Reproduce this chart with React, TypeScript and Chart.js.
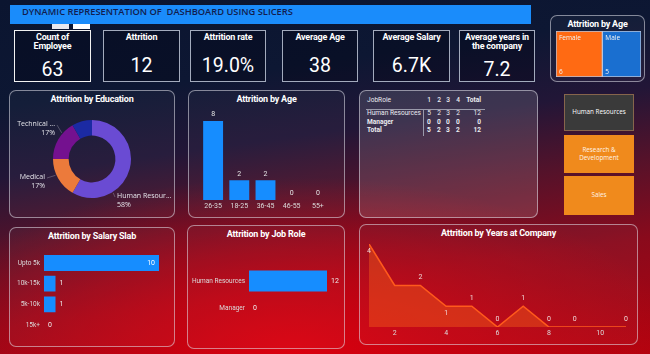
import React, { useEffect, useRef } from 'react';
import { Chart, registerables } from 'chart.js';

Chart.register(...registerables);
Chart.defaults.font.family = 'Roboto';

// ---------- data ----------
const kpiTitles = ['Count of\nEmployee', 'Attrition', 'Attrition rate', 'Average Age', 'Average Salary', 'Average years in\nthe company'];
const kpiValues = ['63', '12', '19.0%', '38', '6.7K', '7.2'];

const educationLabels = ['Human Resources', 'Medical', 'Technical Degree', 'Life Sciences'];
const educationShown = ['Human Resour...', 'Medical', 'Technical ...', ''];
const educationValues = [7, 2, 2, 1];

const ageGroups = ['26-35', '18-25', '36-45', '46-55', '55+'];
const ageValues = [8, 2, 2, 0, 0];

const salarySlabs = ['Upto 5k', '10k-15k', '5k-10k', '15k+'];
const salaryValues = [10, 1, 1, 0];

const jobRoles = ['Human Resources', 'Manager'];
const jobRoleValues = [12, 0];

const years = [1, 2, 3, 4, 5, 6, 7, 8, 9, 10, 11];
const yearsValues = [4, 2, 2, 1, 1, 0, 1, 0, 0, 0, 0];
const yearsLabelPlacement = ['below', 'hide', 'above', 'below', 'above', 'above', 'above', 'above', 'above', 'hide', 'above'];

const genders = ['Female', 'Male'];
const genderValues = [6, 5];

const matrixColumns = ['1', '2', '3', '4'];
const matrixRowNames = ['Human Resources', 'Manager'];
const matrixHR = [5, 2, 3, 2];
const matrixManager = [0, 0, 0, 0];

const slicerItems = ['Human Resources', 'Research &\nDevelopment', 'Sales'];

// ---------- styles ----------
const BLUE = '#168dff';
const eduColors = ['#6a4bd3', '#ec7a3b', '#74118f', '#1b2aa3'];
const genderColors = ['#ff6a13', '#1a6fd0'];
const TICK = '#dcdcdc';

function useChart(ref: any, make: () => any) {
  useEffect(() => {
    const chart = new Chart(ref.current, make());
    return () => chart.destroy();
  }, []);
}

const donutLabelPos = [
  { dx: 25, dy: 37, align: 'left' },
  { dx: -47, dy: 18, align: 'right' },
  { dx: -37, dy: -35, align: 'right' },
  null,
];

function DonutChart() {
  const ref = useRef<HTMLCanvasElement>(null);
  useChart(ref, () => ({
    type: 'doughnut',
    data: { labels: educationLabels, datasets: [{ data: educationValues, backgroundColor: eduColors, borderWidth: 0 }] },
    options: {
      responsive: false, animation: false, cutout: '60%',
      layout: { padding: { top: 16, bottom: 18, left: 44, right: 44 } },
      plugins: { legend: { display: false }, tooltip: { enabled: false } },
    },
    plugins: [{
      id: 'donutLabels',
      afterDraw(chart: any) {
        const ctx = chart.ctx;
        const arc = chart.getDatasetMeta(0).data[0];
        const cx = arc.x, cy = arc.y, r = arc.outerRadius;
        const total = educationValues.reduce((a, b) => a + b, 0);
        ctx.save();
        ctx.font = '7px "Open Sans"';
        ctx.textBaseline = 'middle';
        educationValues.forEach((v, i) => {
          const p = donutLabelPos[i];
          if (!p) return;
          const ax = cx + p.dx, ay = cy + p.dy;
          const ang = Math.atan2(p.dy + 3, p.dx);
          ctx.strokeStyle = 'rgba(200,200,210,0.4)';
          ctx.lineWidth = 0.8;
          ctx.beginPath();
          ctx.moveTo(cx + Math.cos(ang) * (r + 1), cy + Math.sin(ang) * (r + 1));
          ctx.lineTo(ax + (p.align === 'left' ? -2 : 2), ay + 1);
          ctx.stroke();
          ctx.fillStyle = '#e4e4ea';
          ctx.textAlign = p.align;
          ctx.fillText(educationShown[i], ax, ay);
          ctx.fillText(Math.round((v / total) * 100) + '%', ax, ay + 9);
        });
        ctx.restore();
      },
    }],
  }));
  return <canvas ref={ref} width={166} height={112} style={{ position: 'absolute', left: 9, top: 104 }} />;
}

function AgeChart() {
  const ref = useRef<HTMLCanvasElement>(null);
  useChart(ref, () => ({
    type: 'bar',
    data: { labels: ageGroups, datasets: [{ data: ageValues, backgroundColor: BLUE, categoryPercentage: 1, barPercentage: 0.76 }] },
    options: {
      responsive: false, animation: false,
      layout: { padding: { left: 12, right: 13, top: 17, bottom: 4 } },
      scales: {
        x: { grid: { display: false, drawTicks: false }, border: { display: false }, ticks: { font: { size: 7 }, color: TICK, padding: 2 }, afterFit: (s: any) => { s.height = 12; } },
        y: { display: false, min: 0, max: 8 },
      },
      plugins: { legend: { display: false }, tooltip: { enabled: false } },
    },
    plugins: [{
      id: 'ageLabels',
      afterDatasetsDraw(chart: any) {
        const ctx = chart.ctx;
        ctx.save();
        ctx.font = '7px Roboto'; ctx.fillStyle = '#e6e6e6'; ctx.textAlign = 'center'; ctx.textBaseline = 'bottom';
        chart.getDatasetMeta(0).data.forEach((b: any, i: number) => ctx.fillText(String(ageValues[i]), b.x, b.y - 3));
        ctx.restore();
      },
    }],
  }));
  return <canvas ref={ref} width={156} height={112} style={{ position: 'absolute', left: 188, top: 104 }} />;
}

function hbarLabels(values: number[]) {
  return {
    id: 'hbarLabels',
    afterDatasetsDraw(chart: any) {
      const ctx = chart.ctx;
      const max = Math.max(...values);
      ctx.save();
      ctx.font = '7px Roboto'; ctx.textBaseline = 'middle';
      chart.getDatasetMeta(0).data.forEach((b: any, i: number) => {
        const v = values[i];
        if (v === max && b.x - b.base > 40) {
          ctx.textAlign = 'right'; ctx.fillStyle = '#ffffff'; ctx.fillText(String(v), b.x - 4, b.y);
        } else {
          ctx.textAlign = 'left'; ctx.fillStyle = '#eeeeee'; ctx.fillText(String(v), b.x + 4, b.y);
        }
      });
      ctx.restore();
    },
  };
}

function SalaryChart() {
  const ref = useRef<HTMLCanvasElement>(null);
  useChart(ref, () => ({
    type: 'bar',
    data: { labels: salarySlabs, datasets: [{ data: salaryValues, backgroundColor: BLUE, categoryPercentage: 1, barPercentage: 0.77 }] },
    options: {
      indexAxis: 'y', responsive: false, animation: false,
      layout: { padding: { left: 0, right: 16, top: 12.6, bottom: 8.6 } },
      scales: {
        y: { grid: { display: false, drawTicks: false }, border: { display: false }, ticks: { font: { size: 6.5 }, color: TICK, padding: 4 }, afterFit: (s: any) => { s.width = 35; } },
        x: { display: false, min: 0, max: 10 },
      },
      plugins: { legend: { display: false }, tooltip: { enabled: false } },
    },
    plugins: [hbarLabels(salaryValues)],
  }));
  return <canvas ref={ref} width={166} height={104} style={{ position: 'absolute', left: 9, top: 240 }} />;
}

function JobRoleChart() {
  const ref = useRef<HTMLCanvasElement>(null);
  useChart(ref, () => ({
    type: 'bar',
    data: { labels: jobRoles, datasets: [{ data: jobRoleValues, backgroundColor: BLUE, categoryPercentage: 1, barPercentage: 0.78 }] },
    options: {
      indexAxis: 'y', responsive: false, animation: false,
      layout: { padding: { left: 0, right: 17, top: 29.5, bottom: 24.5 } },
      scales: {
        y: { grid: { display: false, drawTicks: false }, border: { display: false }, ticks: { font: { size: 6.5 }, color: TICK, padding: 4 }, afterFit: (s: any) => { s.width = 62; } },
        x: { display: false, min: 0, max: 12 },
      },
      plugins: { legend: { display: false }, tooltip: { enabled: false } },
    },
    plugins: [{
      id: 'jobLabels',
      afterDatasetsDraw(chart: any) {
        const ctx = chart.ctx;
        ctx.save();
        ctx.font = '7px Roboto'; ctx.textBaseline = 'middle'; ctx.textAlign = 'left'; ctx.fillStyle = '#eeeeee';
        chart.getDatasetMeta(0).data.forEach((b: any, i: number) => ctx.fillText(String(jobRoleValues[i]), b.x + 4, b.y));
        ctx.restore();
      },
    }],
  }));
  return <canvas ref={ref} width={157} height={108} style={{ position: 'absolute', left: 187, top: 238 }} />;
}

function YearsChart() {
  const ref = useRef<HTMLCanvasElement>(null);
  useChart(ref, () => ({
    type: 'line',
    data: {
      datasets: [{
        data: years.map((x, i) => ({ x, y: yearsValues[i] })),
        borderColor: '#ff5a1c', borderWidth: 1.6, pointRadius: 0, tension: 0,
        fill: 'origin', backgroundColor: 'rgba(238,88,25,0.48)',
      }],
    },
    options: {
      responsive: false, animation: false,
      layout: { padding: { left: 10, right: 11, top: 6, bottom: 5 } },
      scales: {
        x: {
          type: 'linear', min: 1, max: 11,
          grid: { display: false, drawTicks: false }, border: { display: false },
          ticks: { stepSize: 1, font: { size: 7 }, color: TICK, padding: 2, autoSkip: false, maxRotation: 0, callback: (v: number) => (v % 2 === 0 ? String(v) : '') },
          afterFit: (s: any) => { s.height = 11; },
        },
        y: { display: false, min: 0, max: 4 },
      },
      plugins: { legend: { display: false }, tooltip: { enabled: false } },
    },
    plugins: [{
      id: 'lineLabels',
      afterDatasetsDraw(chart: any) {
        const ctx = chart.ctx;
        ctx.save();
        ctx.font = '7px Roboto'; ctx.fillStyle = '#f0dada'; ctx.textAlign = 'center'; ctx.textBaseline = 'middle';
        chart.getDatasetMeta(0).data.forEach((p: any, i: number) => {
          const pl = yearsLabelPlacement[i];
          if (pl === 'hide') return;
          ctx.fillText(String(yearsValues[i]), p.x, pl === 'below' ? p.y + 7 : p.y - 8);
        });
        ctx.restore();
      },
    }],
  }));
  return <canvas ref={ref} width={278} height={105} style={{ position: 'absolute', left: 359, top: 238 }} />;
}

function GenderChart() {
  const ref = useRef<HTMLCanvasElement>(null);
  const total = genderValues.reduce((a, b) => a + b, 0);
  useChart(ref, () => ({
    type: 'bar',
    data: {
      labels: ['Attrition'],
      datasets: genders.map((g, i) => ({
        label: g, data: [genderValues[i]], backgroundColor: genderColors[i],
        borderColor: 'rgba(200,212,235,0.9)', borderWidth: 1, borderSkipped: false,
        categoryPercentage: 1, barPercentage: 1,
      })),
    },
    options: {
      indexAxis: 'y', responsive: false, animation: false,
      layout: { padding: 0 },
      scales: { x: { display: false, stacked: true, min: 0, max: total }, y: { display: false, stacked: true } },
      plugins: { legend: { display: false }, tooltip: { enabled: false } },
    },
    plugins: [{
      id: 'tileLabels',
      afterDatasetsDraw(chart: any) {
        const ctx = chart.ctx;
        ctx.save();
        ctx.font = '6.5px "Open Sans"'; ctx.fillStyle = '#f4f4f4'; ctx.textAlign = 'left';
        genders.forEach((g, i) => {
          const b = chart.getDatasetMeta(i).data[0];
          const left = Math.min(b.base, b.x);
          const top = b.y - b.height / 2, bottom = b.y + b.height / 2;
          ctx.textBaseline = 'top'; ctx.fillText(g, left + 3, top + 4);
          ctx.textBaseline = 'bottom'; ctx.fillText(String(genderValues[i]), left + 3, bottom - 2);
        });
        ctx.restore();
      },
    }],
  }));
  return <canvas ref={ref} width={85} height={46} style={{ position: 'absolute', left: 556, top: 31 }} />;
}

// ---------- layout pieces ----------
const abs = (x: number, y: number, w: number, h: number): React.CSSProperties => ({ position: 'absolute', left: x, top: y, width: w, height: h, boxSizing: 'border-box' });

function Panel({ x, y, w, h, title, light }: any) {
  return (
    <div style={{ ...abs(x, y, w, h), border: '1px solid rgba(225,225,235,0.55)', borderRadius: 7, background: light ? 'rgba(255,255,255,0.13)' : 'rgba(255,255,255,0.03)' }}>
      {title && (
        <div style={{ position: 'absolute', left: 0, right: 0, top: 3, height: 12, lineHeight: '12px', textAlign: 'center', color: '#fff', font: 'bold 9px Roboto', letterSpacing: -0.2, whiteSpace: 'nowrap' }}>{title}</div>
      )}
    </div>
  );
}

const kpiBoxes = [[14, 91], [103, 180], [190, 266], [282, 358], [373, 450], [459, 535]];

function Kpis() {
  return (
    <>
      {kpiTitles.map((t, i) => {
        const [x0, x1] = kpiBoxes[i];
        const twoLine = t.includes('\n');
        const sel = i === 0;
        return (
          <div key={i} style={{ ...abs(x0, 30, x1 - x0, 52), border: sel ? '1.5px solid #f2f2f2' : '1px solid #a3abbd', background: 'rgba(0,0,10,0.28)' }}>
            <div style={{ position: 'absolute', left: 0, right: 0, top: 1.5, textAlign: 'center', color: '#fff', font: 'bold 9px/9.5px Roboto', letterSpacing: -0.2, whiteSpace: 'pre-line' }}>{t}</div>
            <div style={{ position: 'absolute', left: 0, right: 0, top: (twoLine ? 68 : 63.5) - 30 - 11, height: 22, lineHeight: '22px', textAlign: 'center', color: '#fff', font: '19.5px Roboto' }}>{kpiValues[i]}</div>
          </div>
        );
      })}
    </>
  );
}

function Matrix() {
  const colX = [429, 439, 448, 458];
  const rows = [
    { name: matrixRowNames[0], vals: matrixHR, bold: false, y: 114 },
    { name: matrixRowNames[1], vals: matrixManager, bold: true, y: 122.5 },
    { name: 'Total', vals: matrixHR.map((v, i) => v + matrixManager[i]), bold: true, y: 131 },
  ];
  const txt = (s: string, x: number, y: number, align: string, weight: number, key: string) => (
    <div key={key} style={{ position: 'absolute', top: y - 5, height: 10, lineHeight: '10px', left: align === 'left' ? x : align === 'center' ? x - 15 : x - 40, width: align === 'left' ? 100 : align === 'center' ? 30 : 40, textAlign: align as any, font: `${weight} 6.6px Roboto`, color: '#ececf0', whiteSpace: 'nowrap' }}>{s}</div>
  );
  return (
    <>
      {txt('JobRole', 367, 101, 'left', 400, 'h0')}
      {matrixColumns.map((c, i) => txt(c, colX[i], 101, 'center', 500, 'hc' + i))}
      {txt('Total', 481, 101, 'right', 700, 'ht')}
      <div style={{ position: 'absolute', left: 366, top: 108.5, width: 119, height: 1, background: '#9a9aab' }} />
      <div style={{ position: 'absolute', left: 423, top: 109, width: 1, height: 27, background: '#9a9aab' }} />
      {rows.map((r, ri) => (
        <React.Fragment key={ri}>
          {txt(r.name, 367, r.y, 'left', r.bold ? 700 : 400, 'rn' + ri)}
          {r.vals.map((v, i) => txt(String(v), colX[i], r.y, 'center', r.bold ? 700 : 400, 'rv' + ri + i))}
          {txt(String(r.vals.reduce((a, b) => a + b, 0)), 481, r.y, 'right', r.bold ? 700 : 400, 'rt' + ri)}
        </React.Fragment>
      ))}
    </>
  );
}

function Slicers() {
  const boxes = [[94, 131], [135, 173], [176, 215]];
  return (
    <>
      {slicerItems.map((s, i) => {
        const [y0, y1] = boxes[i];
        const sel = i === 0;
        return (
          <div key={i} style={{ ...abs(564, y0, 70, y1 - y0), background: sel ? '#3a3a3a' : '#f08a1c', border: sel ? '1px solid #86654c' : 'none', display: 'flex', alignItems: 'center', justifyContent: 'center', textAlign: 'center', color: sel ? '#ffffff' : '#fff3e6', font: '6.3px/8.5px "Open Sans"', whiteSpace: 'pre-line' }}>{s}</div>
        );
      })}
    </>
  );
}

export default function App() {
  return (
    <div style={{
      position: 'fixed', left: 0, top: 0, width: 650, height: 354, overflow: 'hidden',
      background: 'radial-gradient(ellipse 60% 50% at 45% 100%, rgba(222,0,14,0.95) 0%, rgba(210,0,14,0.5) 55%, rgba(200,0,14,0) 100%), linear-gradient(172deg, #0b1530 0%, #0d1733 24%, #221637 40%, #55122a 56%, #8a0a1c 74%, #b2030f 100%)',
    }}>
      {/* title bar */}
      <div style={{ ...abs(10, 5, 521, 19), background: '#1a8cfb' }}>
        <div style={{ position: 'absolute', left: 12, top: 0, lineHeight: '19px', font: '600 9.3px "Open Sans"', color: '#121d4e', whiteSpace: 'pre' }}>DYNAMIC REPRESENTATION OF  DASHBOARD USING SLICERS</div>
      </div>
      <div style={{ ...abs(52, 24, 17, 5), background: '#e8e8ee' }} />
      <div style={{ ...abs(73, 24, 17, 5), background: '#ffffff' }} />

      <Kpis />

      <Panel x={550} y={15} w={95} h={67} title="Attrition by Age" />
      <GenderChart />

      <Panel x={9} y={90} w={166} h={128} title="Attrition by Education" />
      <Panel x={188} y={90} w={157} h={128} title="Attrition by Age" />
      <Panel x={359} y={90} w={179} h={128} light />
      <Panel x={9} y={227} w={166} h={120} title="Attrition by Salary Slab" />
      <Panel x={187} y={225} w={158} h={124} title="Attrition by Job Role" />
      <Panel x={359} y={224} w={279} h={121} title="Attrition by Years at Company" />

      <DonutChart />
      <AgeChart />
      <Matrix />
      <Slicers />
      <SalaryChart />
      <JobRoleChart />
      <YearsChart />
    </div>
  );
}
